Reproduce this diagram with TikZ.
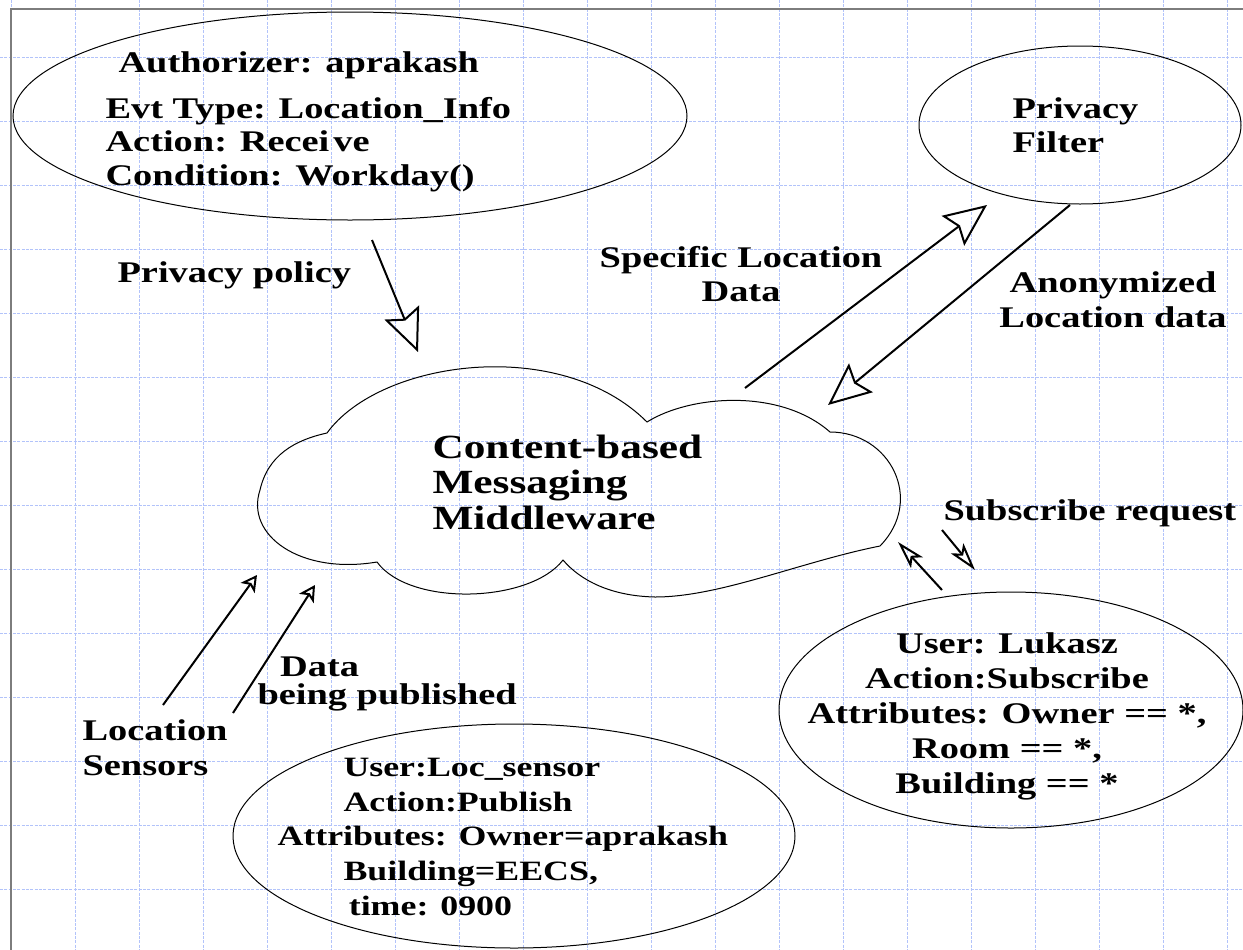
\documentclass[tikz,border=0pt]{standalone}
\usepackage{fontspec}
\setmainfont{Liberation Serif}[FakeStretch=1.28]
\usetikzlibrary{shapes.geometric,arrows.meta}
\definecolor{gridblue}{RGB}{178,195,250}
\definecolor{framegray}{RGB}{125,125,125}
\tikzset{every picture/.style={line width=0.75pt}}
\tikzset{
  bubble/.style={draw, ellipse, inner sep=0pt, outer sep=0pt},
  gridline/.style={draw=gridblue, line width=0.75pt, dash pattern=on 2.25pt off 1pt},
  lbl/.style={font=\bfseries\fontsize{22.5}{25.5}\selectfont, inner sep=0pt},
  bigarrow/.style={line width=1.5pt, -{Stealth[open, length=32pt, width=28pt, inset=5pt]}},
  smallarrow/.style={line width=1.5pt, -{Stealth[open, length=12pt, width=13pt, inset=3pt]}},
  subarrow/.style={line width=1.5pt, -{Stealth[open, length=21pt, width=12pt, inset=5pt]}},
}

\begin{document}
\begin{tikzpicture}[x=0.75pt,y=0.75pt,yscale=-1,xscale=1]
\clip (0,0) rectangle (1243,950);

%Grid
\foreach \gx in {11,75,...,1243} \draw[gridline] (\gx,0) -- (\gx,950);
\foreach \gy in {57,121,...,950} \draw[gridline] (0,\gy) -- (1243,\gy);
%Frame
\draw[framegray, line width=1.5pt] (11,960) -- (11,8.5) -- (1260,8.5);

%Shape: Ellipse
\node[bubble, minimum width=505.5pt, minimum height=156pt] (policy) at (350,116) {};
%Shape: Ellipse
\node[bubble, minimum width=241.5pt, minimum height=118.5pt] (filter) at (1080,125) {};
%Shape: Ellipse
\node[bubble, minimum width=348pt, minimum height=177pt] (subscriber) at (1011,710) {};
%Shape: Ellipse
\node[bubble, minimum width=421.5pt, minimum height=168pt] (publisher) at (514,836) {};

%Shape: Cloud
\draw (327,433) .. controls (380,360) and (560,335) .. (647,422)
  .. controls (690,395) and (780,388) .. (830,432)
  .. controls (890,432) and (925,500) .. (880,546)
  .. controls (800,562) and (720,597) .. (655,597)
  .. controls (610,596) and (580,580) .. (563,560)
  .. controls (530,603) and (410,607) .. (377,562)
  .. controls (300,575) and (245,535) .. (260,490)
  .. controls (268,455) and (295,440) .. cycle ;

% Text Node
\node[lbl, anchor=base west] (authname) at (118,72) {Authorizer: aprakash};
% Text Node
\node[lbl, anchor=base west, align=left, font=\bfseries\fontsize{22.5}{25}\selectfont] (authrule) at (105,185) {Evt Type: Location\_Info\\Action: Recei\kern3pt ve\\Condition: Workday()};
% Text Node
\node[lbl, anchor=base west, align=left] (filtertxt) at (1012,152) {Privacy\\Filter};
% Text Node
\node[lbl, anchor=base west] (policylbl) at (117,282) {Privacy policy};
% Text Node
\node[lbl, anchor=base, align=center] (specificlbl) at (741,301) {Specific Location\\Data};
% Text Node
\node[lbl, anchor=base, align=center, font=\bfseries\fontsize{22.5}{26}\selectfont] (anonlbl) at (1113,327) {Anonymized\\Location data};
% Text Node
\node[lbl, anchor=base west, align=left, font=\bfseries\fontsize{25.4}{26.5}\selectfont] (cbmm) at (432,529) {Content-based\\Messaging\\Middleware};
% Text Node
\node[lbl, anchor=base west] (sublbl) at (943,520) {Subscribe request};
% Text Node
\node[lbl, anchor=base west, align=left, font=\bfseries\fontsize{22.5}{21}\selectfont] (publbl) at (257,704) {\hspace*{17pt}Data\\being published};
% Text Node
\node[lbl, anchor=base west, align=left, font=\bfseries\fontsize{22.5}{26}\selectfont] (sensorlbl) at (82,775) {Location\\Sensors};
% Text Node
\node[lbl, anchor=base, align=center, font=\bfseries\fontsize{22.5}{26.25}\selectfont] (subtxt) at (1007,793) {User: Lukasz\\Action:Subscribe\\Attributes: Owner == *,\\Room == *,\\Building == *};
% Text Node
\node[lbl, anchor=base west, align=left, font=\bfseries\fontsize{21}{25.9}\selectfont] (pubtxt) at (343,915) {User:Loc\_sensor\\Action:Publish\\\hspace*{-49.5pt}Attributes: Owner=aprakash\\Building=EECS,\\\hspace*{4pt}time: 0900};

%Straight Lines
\coordinate (polfrom) at (372,240);
\coordinate (polto) at (418,352);
\draw[bigarrow] (polfrom) -- (polto);
%Straight Lines
\coordinate (specfrom) at (745,388);
\coordinate (specto) at (987,205);
\draw[bigarrow] (specfrom) -- (specto);
%Straight Lines
\coordinate (anonfrom) at (1070,205);
\coordinate (anonto) at (828,405);
\draw[bigarrow] (anonfrom) -- (anonto);
%Straight Lines
\coordinate (sensafrom) at (163,705);
\coordinate (sensato) at (257,575);
\draw[smallarrow] (sensafrom) -- (sensato);
\coordinate (sensbfrom) at (233,713);
\coordinate (sensbto) at (315,585);
\draw[smallarrow] (sensbfrom) -- (sensbto);
%Straight Lines
\coordinate (subupfrom) at (942,590);
\coordinate (subupto) at (898,542);
\draw[subarrow] (subupfrom) -- (subupto);
\coordinate (subdnfrom) at (942,530);
\coordinate (subdnto) at (975,570);
\draw[subarrow] (subdnfrom) -- (subdnto);

\end{tikzpicture}
\end{document}
